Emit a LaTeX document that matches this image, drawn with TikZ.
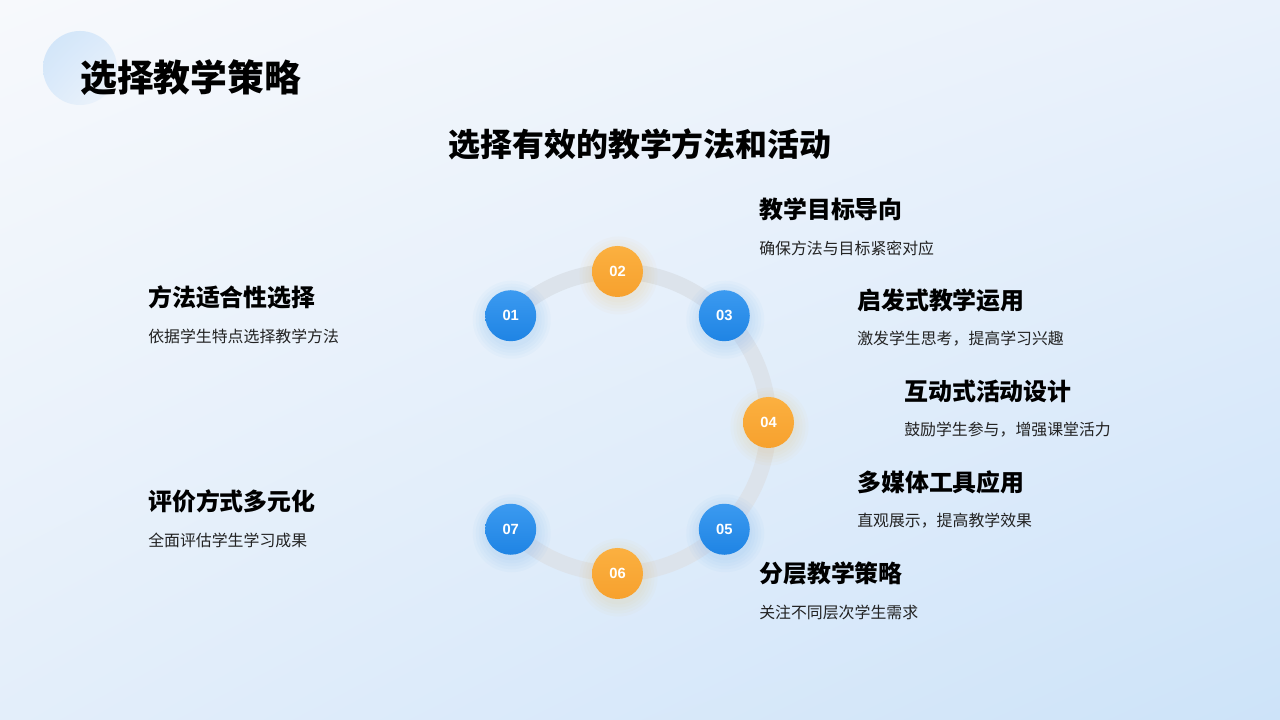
\documentclass[tikz,border=0pt]{standalone}
\usepackage{fontspec}
\setmainfont{Noto Sans CJK SC}
\newfontfamily\numfont{Liberation Sans}
\usepackage{xcolor}
\usetikzlibrary{calc,positioning,shadings}

\definecolor{bgA}{HTML}{F7F9FC}
\definecolor{bgB}{HTML}{E9F1FB}
\definecolor{bgC}{HTML}{E3EEFA}
\definecolor{bgD}{HTML}{CDE3F9}
\definecolor{ringgray}{HTML}{DCE3EB}
\definecolor{blueA}{HTML}{3B9AF0}
\definecolor{blueB}{HTML}{1F84E4}
\definecolor{orangeA}{HTML}{FBB040}
\definecolor{orangeB}{HTML}{F7A12E}
\definecolor{decoA}{HTML}{CFE4F9}
\definecolor{decoB}{HTML}{F0F5FB}
\definecolor{desctext}{HTML}{222222}

\begin{document}
\begin{tikzpicture}[x=0.025cm,y=0.025cm,
    dot/.style={circle,minimum size=1.275cm,inner sep=0pt,text=white,
      font=\numfont\bfseries\fontsize{10.5}{12}\selectfont},
    b/.style={dot,top color=blueA,bottom color=blueB},
    o/.style={dot,top color=orangeA,bottom color=orangeB},
    head/.style={anchor=west,inner sep=0pt,font=\bfseries\fontsize{17}{20}\selectfont},
    desc/.style={anchor=west,inner sep=0pt,text=desctext,font=\fontsize{11.3}{14}\selectfont},
    ring/.style={ringgray,line width=0.4cm}]
  % background
  \shade[upper left=bgA,upper right=bgB,lower left=bgC,lower right=bgD] (0,0) rectangle (1280,720);
  \useasboundingbox (0,0) rectangle (1280,720);
  \shade[upper left=decoA,lower right=decoB,upper right=decoA!60!decoB,lower left=decoA!60!decoB] (80,652) circle[radius=37];
  \node[anchor=west,inner sep=0pt,font=\bfseries\fontsize{26.2}{30}\selectfont] (title) at (80,642) {选择教学策略};
  \node[inner sep=0pt,font=\bfseries\fontsize{22.7}{26}\selectfont] (sub) at (640,576) {选择有效的教学方法和活动};

  % ring
  \coordinate (C) at (617.5,297.5);
  \coordinate (p1) at ($(C)+(135:151)$);
  \coordinate (p2) at ($(C)+(90:151)$);
  \coordinate (p3) at ($(C)+(45:151)$);
  \coordinate (p4) at ($(C)+(0:151)$);
  \coordinate (p5) at ($(C)+(-45:151)$);
  \coordinate (p6) at ($(C)+(-90:151)$);
  \coordinate (p7) at ($(C)+(-135:151)$);
  \draw[ring] (p1) arc[start angle=135,end angle=-135,radius=151];

  % glow
  \foreach \p/\c in {p1/blueA,p2/orangeA,p3/blueA,p4/orangeA,p5/blueA,p6/orangeA,p7/blueA}{
    \foreach \r in {27,30,33,36,39}
      \fill[\c,opacity=0.03] ($(\p)+(1,-4)$) circle[radius=\r];
  }

  \node[b] (n1) at (p1) {01};
  \node[o] (n2) at (p2) {02};
  \node[b] (n3) at (p3) {03};
  \node[o] (n4) at (p4) {04};
  \node[b] (n5) at (p5) {05};
  \node[o] (n6) at (p6) {06};
  \node[b] (n7) at (p7) {07};

  % labels
  \node[head] (t1) at (148,423) {方法适合性选择};
  \node[desc] (d1) at (148,384) {依据学生特点选择教学方法};
  \node[head] (t2) at (759,511) {教学目标导向};
  \node[desc] (d2) at (759,472) {确保方法与目标紧密对应};
  \node[head] (t3) at (857,420) {启发式教学运用};
  \node[desc] (d3) at (857,381) {激发学生思考，提高学习兴趣};
  \node[head] (t4) at (904,329) {互动式活动设计};
  \node[desc] (d4) at (904,290) {鼓励学生参与，增强课堂活力};
  \node[head] (t5) at (857,238) {多媒体工具应用};
  \node[desc] (d5) at (857,199) {直观展示，提高教学效果};
  \node[head] (t6) at (759,147) {分层教学策略};
  \node[desc] (d6) at (759,108) {关注不同层次学生需求};
  \node[head] (t7) at (148,219) {评价方式多元化};
  \node[desc] (d7) at (148,180) {全面评估学生学习成果};
\end{tikzpicture}
\end{document}
